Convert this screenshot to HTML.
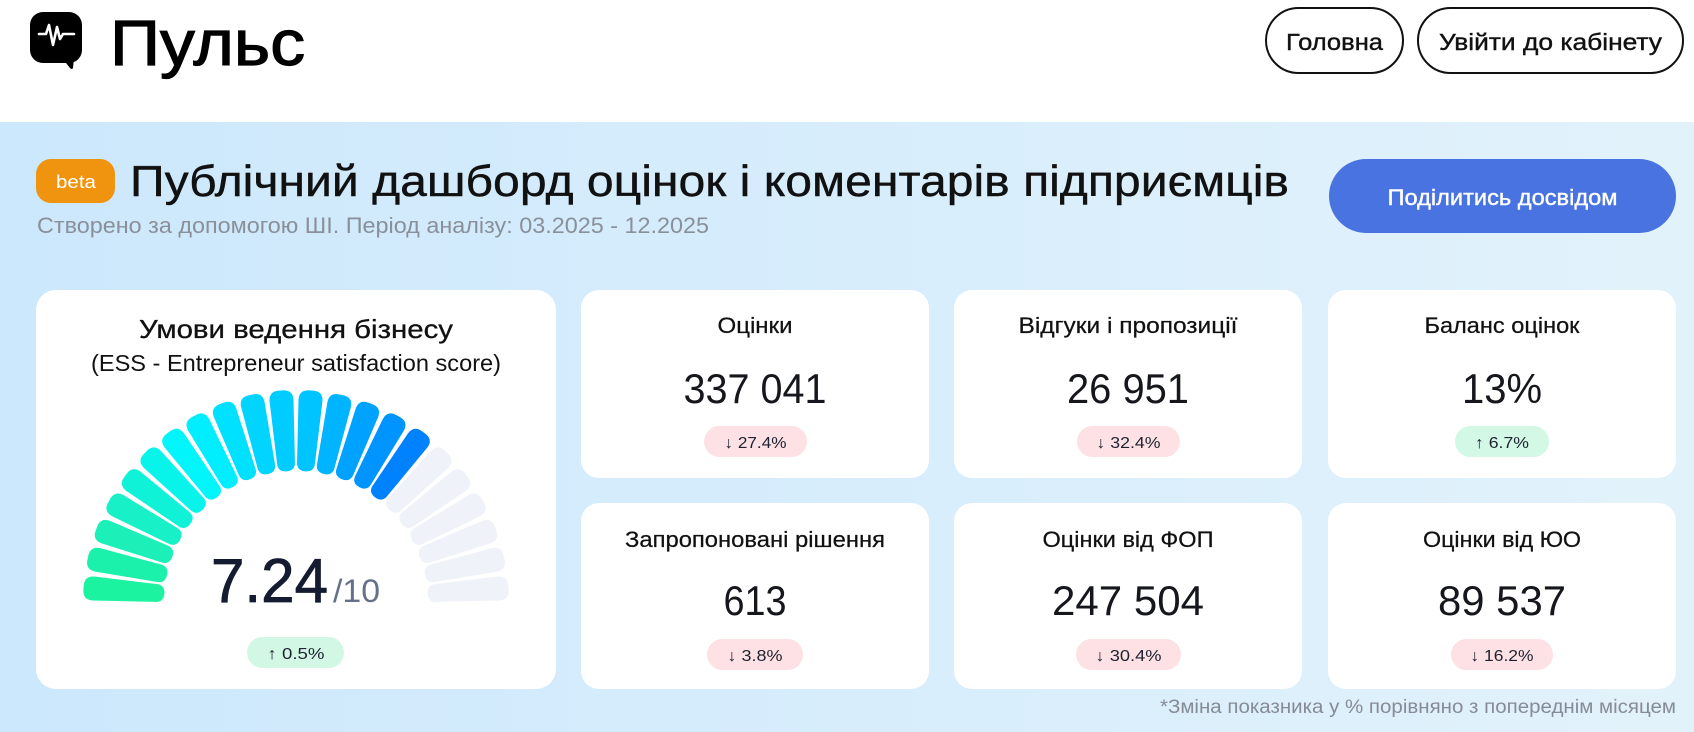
<!DOCTYPE html>
<html>
<head>
<meta charset="utf-8">
<style>
html,body{margin:0;padding:0;background:#fff;}
svg{display:block;}
text{font-family:"Liberation Sans","DejaVu Sans",sans-serif;}
</style>
</head>
<body>
<svg width="1694" height="732" viewBox="0 0 1694 732" xmlns="http://www.w3.org/2000/svg">
<defs>
<linearGradient id="bg" x1="0" y1="0" x2="1" y2="0">
<stop offset="0" stop-color="#cce8fc"/>
<stop offset="1" stop-color="#e2f2fb"/>
</linearGradient>
</defs>
<rect x="0" y="0" width="1694" height="732" fill="#ffffff"/>

<!-- Header -->
<rect x="30" y="12" width="52" height="51" rx="13" fill="#000"/>
<path d="M62 58 L74 58 L73 68 Q72 70 70 68 Z" fill="#000"/>
<polyline points="39,34 46,34 49,25 53,45 57,27 60,39 63,34 74,34" fill="none" stroke="#fff" stroke-width="2.6" stroke-linejoin="round" stroke-linecap="round"/>
<text x="110" y="65" font-size="64" fill="#000" stroke="#000" stroke-width="1.2" textLength="195" lengthAdjust="spacingAndGlyphs">Пульс</text>

<rect x="1266" y="8" width="137" height="65" rx="32.5" fill="#fff" stroke="#111" stroke-width="2"/>
<text x="1334.5" y="50" font-size="23" fill="#111" stroke="#111" stroke-width="0.4" text-anchor="middle" textLength="97" lengthAdjust="spacingAndGlyphs">Головна</text>
<rect x="1418" y="8" width="265" height="65" rx="32.5" fill="#fff" stroke="#111" stroke-width="2"/>
<text x="1550.5" y="50" font-size="23" fill="#111" stroke="#111" stroke-width="0.4" text-anchor="middle" textLength="223" lengthAdjust="spacingAndGlyphs">Увійти до кабінету</text>

<!-- Band -->
<rect x="0" y="122" width="1694" height="610" fill="url(#bg)"/>

<rect x="36" y="159" width="79" height="44" rx="15" fill="#f0930f"/>
<text x="76" y="188" font-size="18" fill="#fff" text-anchor="middle" textLength="40" lengthAdjust="spacingAndGlyphs">beta</text>
<text x="130" y="196" font-size="44" fill="#111" stroke="#111" stroke-width="0.4" textLength="1159" lengthAdjust="spacingAndGlyphs">Публічний дашборд оцінок і коментарів підприємців</text>
<text x="37" y="233" font-size="22" fill="#8a9099" textLength="672" lengthAdjust="spacingAndGlyphs">Створено за допомогою ШІ. Період аналізу: 03.2025 - 12.2025</text>

<rect x="1329" y="159" width="347" height="74" rx="37" fill="#4873e0"/>
<text x="1502.5" y="205" font-size="22" fill="#fff" stroke="#fff" stroke-width="0.4" text-anchor="middle" textLength="230" lengthAdjust="spacingAndGlyphs">Поділитись досвідом</text>

<!-- Gauge card -->
<rect x="36" y="290" width="520" height="399" rx="20" fill="#fff"/>
<text x="296" y="338" font-size="26" fill="#111" stroke="#111" stroke-width="0.3" text-anchor="middle" textLength="314" lengthAdjust="spacingAndGlyphs">Умови ведення бізнесу</text>
<text x="296" y="371" font-size="23" fill="#111" text-anchor="middle" textLength="410" lengthAdjust="spacingAndGlyphs">(ESS - Entrepreneur satisfaction score)</text>

<g>
<path d="M93 591 L155 594 Q164 594 164 603 L164 603 Q164 612 155 612 L93 615 Q83 615 83 605 L83 601 Q83 591 93 591 Z" fill="#1cf3a0" transform="rotate(4.09 296 603)"/>
<path d="M93 591 L155 594 Q164 594 164 603 L164 603 Q164 612 155 612 L93 615 Q83 615 83 605 L83 601 Q83 591 93 591 Z" fill="#1cf1ab" transform="rotate(12.27 296 603)"/>
<path d="M93 591 L155 594 Q164 594 164 603 L164 603 Q164 612 155 612 L93 615 Q83 615 83 605 L83 601 Q83 591 93 591 Z" fill="#1cf0b8" transform="rotate(20.45 296 603)"/>
<path d="M93 591 L155 594 Q164 594 164 603 L164 603 Q164 612 155 612 L93 615 Q83 615 83 605 L83 601 Q83 591 93 591 Z" fill="#18f0c8" transform="rotate(28.64 296 603)"/>
<path d="M93 591 L155 594 Q164 594 164 603 L164 603 Q164 612 155 612 L93 615 Q83 615 83 605 L83 601 Q83 591 93 591 Z" fill="#10f2d8" transform="rotate(36.82 296 603)"/>
<path d="M93 591 L155 594 Q164 594 164 603 L164 603 Q164 612 155 612 L93 615 Q83 615 83 605 L83 601 Q83 591 93 591 Z" fill="#08f4ea" transform="rotate(45 296 603)"/>
<path d="M93 591 L155 594 Q164 594 164 603 L164 603 Q164 612 155 612 L93 615 Q83 615 83 605 L83 601 Q83 591 93 591 Z" fill="#00f6fa" transform="rotate(53.18 296 603)"/>
<path d="M93 591 L155 594 Q164 594 164 603 L164 603 Q164 612 155 612 L93 615 Q83 615 83 605 L83 601 Q83 591 93 591 Z" fill="#00eeff" transform="rotate(61.36 296 603)"/>
<path d="M93 591 L155 594 Q164 594 164 603 L164 603 Q164 612 155 612 L93 615 Q83 615 83 605 L83 601 Q83 591 93 591 Z" fill="#00e0ff" transform="rotate(69.55 296 603)"/>
<path d="M93 591 L155 594 Q164 594 164 603 L164 603 Q164 612 155 612 L93 615 Q83 615 83 605 L83 601 Q83 591 93 591 Z" fill="#00d4ff" transform="rotate(77.73 296 603)"/>
<path d="M93 591 L155 594 Q164 594 164 603 L164 603 Q164 612 155 612 L93 615 Q83 615 83 605 L83 601 Q83 591 93 591 Z" fill="#00ccff" transform="rotate(85.91 296 603)"/>
<path d="M93 591 L155 594 Q164 594 164 603 L164 603 Q164 612 155 612 L93 615 Q83 615 83 605 L83 601 Q83 591 93 591 Z" fill="#00c4ff" transform="rotate(94.09 296 603)"/>
<path d="M93 591 L155 594 Q164 594 164 603 L164 603 Q164 612 155 612 L93 615 Q83 615 83 605 L83 601 Q83 591 93 591 Z" fill="#00b4ff" transform="rotate(102.27 296 603)"/>
<path d="M93 591 L155 594 Q164 594 164 603 L164 603 Q164 612 155 612 L93 615 Q83 615 83 605 L83 601 Q83 591 93 591 Z" fill="#00a2ff" transform="rotate(110.45 296 603)"/>
<path d="M93 591 L155 594 Q164 594 164 603 L164 603 Q164 612 155 612 L93 615 Q83 615 83 605 L83 601 Q83 591 93 591 Z" fill="#0094ff" transform="rotate(118.64 296 603)"/>
<path d="M93 591 L155 594 Q164 594 164 603 L164 603 Q164 612 155 612 L93 615 Q83 615 83 605 L83 601 Q83 591 93 591 Z" fill="#0082ff" transform="rotate(126.82 296 603)"/>
<path d="M93 591 L155 594 Q164 594 164 603 L164 603 Q164 612 155 612 L93 615 Q83 615 83 605 L83 601 Q83 591 93 591 Z" fill="#f0f2fa" transform="rotate(135 296 603)"/>
<path d="M93 591 L155 594 Q164 594 164 603 L164 603 Q164 612 155 612 L93 615 Q83 615 83 605 L83 601 Q83 591 93 591 Z" fill="#f0f2fa" transform="rotate(143.18 296 603)"/>
<path d="M93 591 L155 594 Q164 594 164 603 L164 603 Q164 612 155 612 L93 615 Q83 615 83 605 L83 601 Q83 591 93 591 Z" fill="#f0f2fa" transform="rotate(151.36 296 603)"/>
<path d="M93 591 L155 594 Q164 594 164 603 L164 603 Q164 612 155 612 L93 615 Q83 615 83 605 L83 601 Q83 591 93 591 Z" fill="#f0f2fa" transform="rotate(159.55 296 603)"/>
<path d="M93 591 L155 594 Q164 594 164 603 L164 603 Q164 612 155 612 L93 615 Q83 615 83 605 L83 601 Q83 591 93 591 Z" fill="#f0f2fa" transform="rotate(167.73 296 603)"/>
<path d="M93 591 L155 594 Q164 594 164 603 L164 603 Q164 612 155 612 L93 615 Q83 615 83 605 L83 601 Q83 591 93 591 Z" fill="#f0f2fa" transform="rotate(175.91 296 603)"/>
</g>

<text x="211" y="602" font-size="62" fill="#151b30" stroke="#151b30" stroke-width="0.8" textLength="117" lengthAdjust="spacingAndGlyphs">7.24</text>
<text x="333" y="602" font-size="32" fill="#66708a" textLength="47" lengthAdjust="spacingAndGlyphs">/10</text>
<rect x="247" y="637" width="97" height="31" rx="15.5" fill="#d2f7e5"/>
<text x="296" y="659" font-size="16" fill="#1d2130" text-anchor="middle" textLength="57" lengthAdjust="spacingAndGlyphs">↑ 0.5%</text>

<!-- Small cards row 1 -->
<rect x="581" y="290" width="348" height="188" rx="18" fill="#fff"/>
<rect x="954" y="290" width="348" height="188" rx="18" fill="#fff"/>
<rect x="1328" y="290" width="348" height="188" rx="18" fill="#fff"/>
<!-- row 2 -->
<rect x="581" y="503" width="348" height="186" rx="18" fill="#fff"/>
<rect x="954" y="503" width="348" height="186" rx="18" fill="#fff"/>
<rect x="1328" y="503" width="348" height="186" rx="18" fill="#fff"/>

<g font-size="22" fill="#111" stroke="#111" stroke-width="0.25" text-anchor="middle">
<text x="755" y="333" textLength="75" lengthAdjust="spacingAndGlyphs">Оцінки</text>
<text x="1128" y="333" textLength="219" lengthAdjust="spacingAndGlyphs">Відгуки і пропозиції</text>
<text x="1502" y="333" textLength="155" lengthAdjust="spacingAndGlyphs">Баланс оцінок</text>
<text x="755" y="547" textLength="260" lengthAdjust="spacingAndGlyphs">Запропоновані рішення</text>
<text x="1128" y="547" textLength="171" lengthAdjust="spacingAndGlyphs">Оцінки від ФОП</text>
<text x="1502" y="547" textLength="158" lengthAdjust="spacingAndGlyphs">Оцінки від ЮО</text>
</g>

<g font-size="42" fill="#15171c" text-anchor="middle">
<text x="755" y="403" textLength="143" lengthAdjust="spacingAndGlyphs">337 041</text>
<text x="1128" y="403" textLength="122" lengthAdjust="spacingAndGlyphs">26 951</text>
<text x="1502" y="403" textLength="80" lengthAdjust="spacingAndGlyphs">13%</text>
<text x="755" y="615" textLength="63" lengthAdjust="spacingAndGlyphs">613</text>
<text x="1128" y="615" textLength="152" lengthAdjust="spacingAndGlyphs">247 504</text>
<text x="1502" y="615" textLength="128" lengthAdjust="spacingAndGlyphs">89 537</text>
</g>

<rect x="704" y="426" width="103" height="31" rx="15.5" fill="#fde1e4"/>
<rect x="1077" y="426" width="103" height="31" rx="15.5" fill="#fde1e4"/>
<rect x="1455" y="426" width="94" height="31" rx="15.5" fill="#d3f8e6"/>
<rect x="707" y="639" width="96" height="31" rx="15.5" fill="#fde1e4"/>
<rect x="1076" y="639" width="105" height="31" rx="15.5" fill="#fde1e4"/>
<rect x="1451" y="639" width="102" height="31" rx="15.5" fill="#fde1e4"/>

<g font-size="16" fill="#1d2130" text-anchor="middle">
<text x="755.5" y="448" textLength="62" lengthAdjust="spacingAndGlyphs">↓ 27.4%</text>
<text x="1128.5" y="448" textLength="64" lengthAdjust="spacingAndGlyphs">↓ 32.4%</text>
<text x="1502" y="448" textLength="54" lengthAdjust="spacingAndGlyphs">↑ 6.7%</text>
<text x="755" y="661" textLength="55" lengthAdjust="spacingAndGlyphs">↓ 3.8%</text>
<text x="1128.5" y="661" textLength="66" lengthAdjust="spacingAndGlyphs">↓ 30.4%</text>
<text x="1502" y="661" textLength="63" lengthAdjust="spacingAndGlyphs">↓ 16.2%</text>
</g>

<text x="1676" y="713" font-size="19" fill="#868b95" text-anchor="end" textLength="516" lengthAdjust="spacingAndGlyphs">*Зміна показника у % порівняно з попереднім місяцем</text>
</svg>
</body>
</html>
